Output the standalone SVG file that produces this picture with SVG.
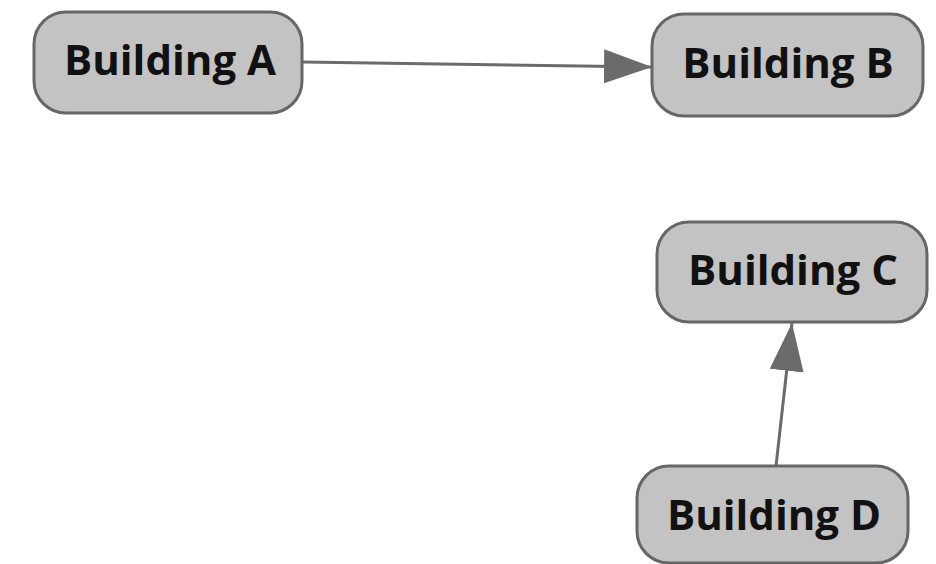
<svg xmlns="http://www.w3.org/2000/svg" width="936" height="564" viewBox="0 0 936 564">
<style>
.node rect{fill:#c3c3c3;stroke:#666;stroke-width:3}
.node text{font-family:"Open Sans","Noto Sans","DejaVu Sans",sans-serif;font-weight:bold;font-size:42px;fill:#111;text-anchor:middle}
.edge{stroke:#6b6b6b;stroke-width:3;fill:none}
</style>
<defs>
<marker id="arr" viewBox="0 0 48 34" refX="48" refY="17" markerWidth="48" markerHeight="34" markerUnits="userSpaceOnUse" orient="auto">
<path d="M0,0 L48,17 L0,34 Z" fill="#6b6b6b"/>
</marker>
</defs>
<rect width="936" height="564" fill="#fff"/>
<g id="connectors">
<line class="edge" x1="302" y1="62" x2="652" y2="67" marker-end="url(#arr)"/>
<line class="edge" x1="776" y1="466" x2="792" y2="323" marker-end="url(#arr)"/>
</g>
<g id="nodeA" class="node"><rect x="34" y="12" width="268" height="101" rx="32"/><text x="170" y="75">Building A</text></g>
<g id="nodeB" class="node"><rect x="652" y="14" width="271" height="102" rx="32"/><text x="788" y="78">Building B</text></g>
<g id="nodeC" class="node"><rect x="657" y="222" width="270" height="100" rx="32"/><text x="793" y="285">Building C</text></g>
<g id="nodeD" class="node"><rect x="637" y="466" width="271" height="97" rx="32"/><text x="774" y="530">Building D</text></g>
</svg>
